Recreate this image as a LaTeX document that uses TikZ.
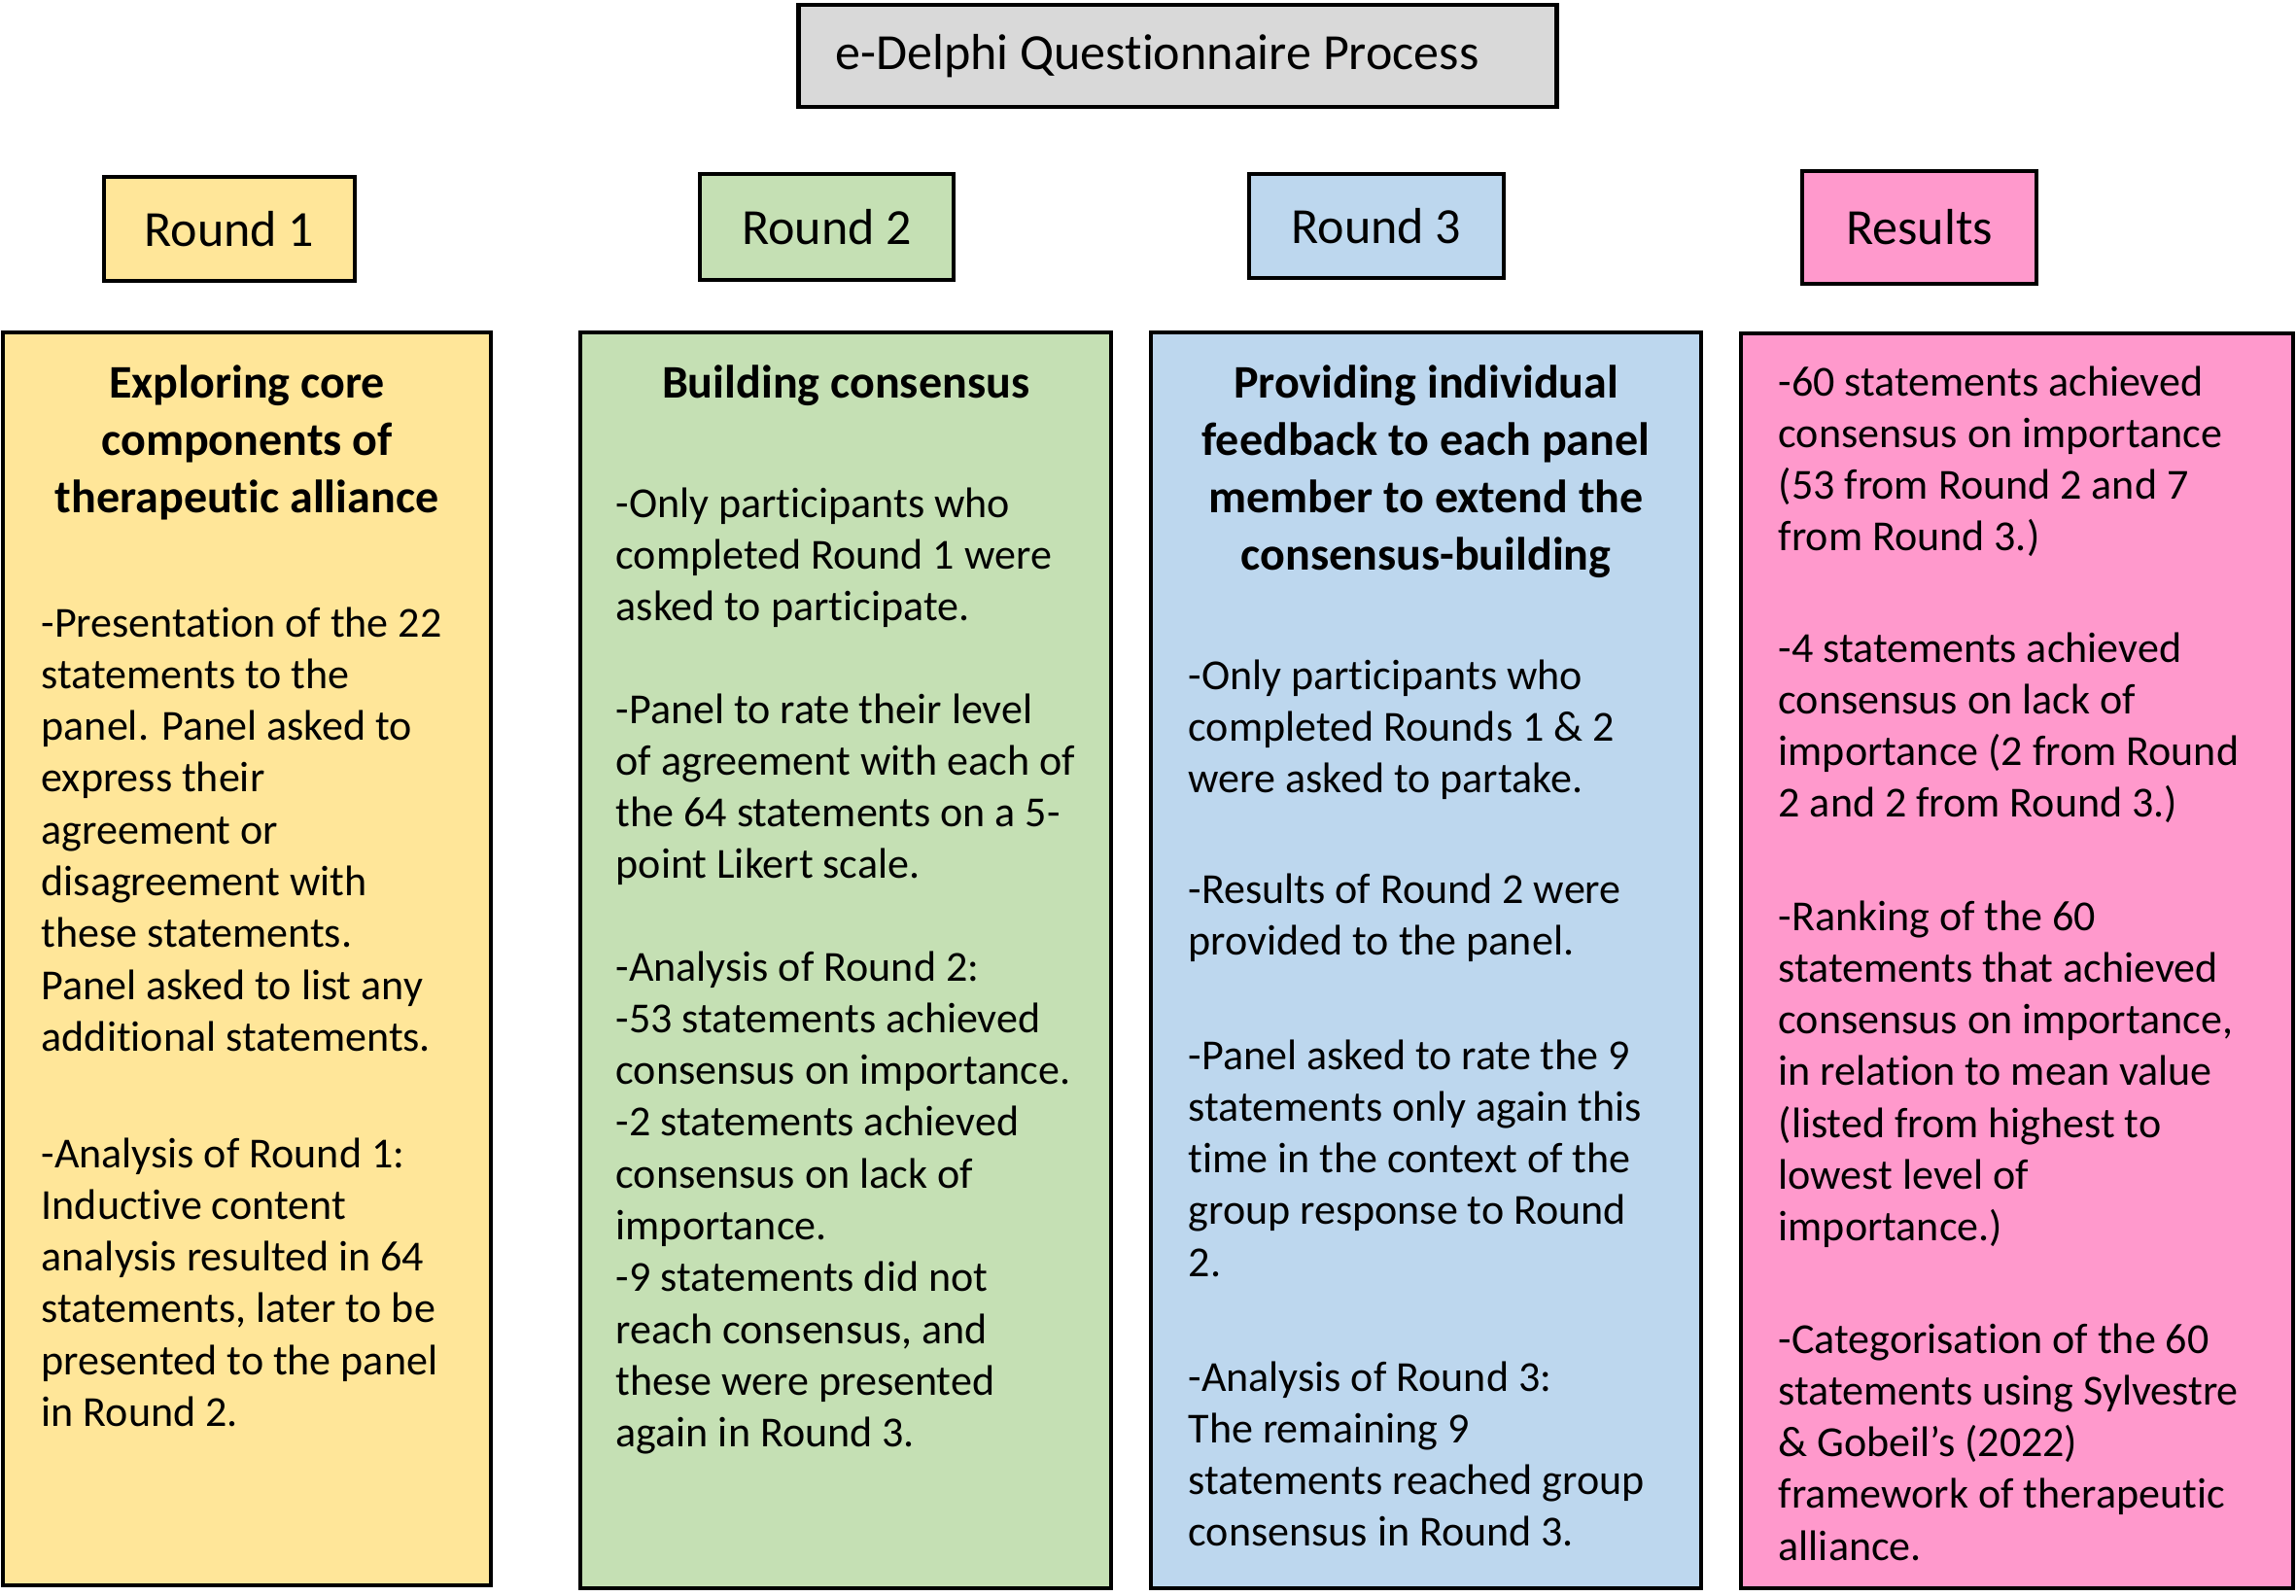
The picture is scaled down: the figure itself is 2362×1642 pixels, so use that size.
\documentclass[tikz,border=0pt]{standalone}
\usepackage{fontspec}
\setmainfont{Carlito}[Ligatures={NoCommon}]
\usetikzlibrary{fit}
\definecolor{cyellow}{HTML}{FFE699}
\definecolor{cgreen}{HTML}{C5E0B4}
\definecolor{cblue}{HTML}{BDD7EE}
\definecolor{cpink}{HTML}{FF99CC}
\definecolor{cgrey}{HTML}{D9D9D9}
\newcommand{\bodyfont}{\fontsize{12.52pt}{15.16pt}\selectfont}
\newcommand{\headfont}{\fontsize{13.66pt}{16.7pt}\selectfont\bfseries}
\newcommand{\labfont}{\fontsize{14.8pt}{17.8pt}\selectfont}
\begin{document}
\begin{tikzpicture}[x=0.01cm,y=-0.01cm,
  box/.style={draw=black, line width=1.3pt, inner sep=0pt},
  para/.style={anchor=north west, inner sep=0pt, align=left, font=\bodyfont},
  head/.style={anchor=north, inner sep=0pt, align=center, font=\headfont},
  lab/.style={box, font=\labfont}]
\useasboundingbox (0,0) rectangle (2362,1642);

% title and round labels
\node[lab, fill=cgrey, minimum width=7.79cm, minimum height=1.05cm] (title) at (1211.5,57.5) {e-Delphi Questionnaire Process\hspace*{0.42cm}};
\node[lab, fill=cyellow, minimum width=2.58cm, minimum height=1.07cm] (r1) at (236,235.5) {Round 1};
\node[lab, fill=cgreen, minimum width=2.61cm, minimum height=1.09cm] (r2) at (850.5,233.5) {Round 2};
\node[lab, fill=cblue, minimum width=2.62cm, minimum height=1.07cm] (r3) at (1416,232.5) {Round 3};
\node[lab, fill=cpink, minimum width=2.41cm, minimum height=1.16cm] (res) at (1974.5,234) {Results};

% big boxes
\node[box, fill=cyellow, fit={(3,342) (505,1631)}] (b1) {};
\node[box, fill=cgreen, fit={(597,342) (1143,1634)}] (b2) {};
\node[box, fill=cblue, fit={(1184,342) (1750,1634)}] (b3) {};
\node[box, fill=cpink, fit={(1791,343) (2359,1634)}] (b4) {};

% Round 1 texts
\node[head] (h1) at (254,368) {\strut Exploring core\\components of\\therapeutic alliance};
\node[para] (p1a) at (42,617) {\strut -Presentation of the 22\\statements to the\\panel. Panel asked to\\express their\\agreement or\\disagreement with\\these statements.\\Panel asked to list any\\additional statements.};
\node[para] (p1b) at (42,1163) {\strut -Analysis of Round 1:\\Inductive content\\analysis resulted in 64\\statements, later to be\\presented to the panel\\in Round 2.};

% Round 2 texts
\node[head] (h2) at (870,368) {\strut Building consensus};
\node[para] (p2a) at (633,494) {\strut -Only participants who\\completed Round 1 were\\asked to participate.};
\node[para] (p2b) at (633,706) {\strut -Panel to rate their level\\of agreement with each of\\the 64 statements on a 5-\\point Likert scale.};
\node[para] (p2c) at (633,971) {\strut -Analysis of Round 2:\\-53 statements achieved\\consensus on importance.\\-2 statements achieved\\consensus on lack of\\importance.\\-9 statements did not\\reach consensus, and\\these were presented\\again in Round 3.};

% Round 3 texts
\node[head] (h3) at (1467,368) {\strut Providing individual\\feedback to each panel\\member to extend the\\consensus-building};
\node[para] (p3a) at (1222,671) {\strut -Only participants who\\completed Rounds 1 \& 2\\were asked to partake.};
\node[para] (p3b) at (1222,891) {\strut -Results of Round 2 were\\provided to the panel.};
\node[para] (p3c) at (1222,1062) {\strut -Panel asked to rate the 9\\statements only again this\\time in the context of the\\group response to Round\\2.};
\node[para] (p3d) at (1222,1393) {\strut -Analysis of Round 3:\\The remaining 9\\statements reached group\\consensus in Round 3.};

% Results texts
\node[para] (p4a) at (1829,369) {\strut -60 statements achieved\\consensus on importance\\(53 from Round 2 and 7\\from Round 3.)};
\node[para] (p4b) at (1829,643) {\strut -4 statements achieved\\consensus on lack of\\importance (2 from Round\\2 and 2 from Round 3.)};
\node[para] (p4c) at (1829,919) {\strut -Ranking of the 60\\statements that achieved\\consensus on importance,\\in relation to mean value\\(listed from highest to\\lowest level of\\importance.)};
\node[para] (p4d) at (1829,1354) {\strut -Categorisation of the 60\\statements using Sylvestre\\\& Gobeil’s (2022)\\framework of therapeutic\\alliance.};
\end{tikzpicture}
\end{document}
